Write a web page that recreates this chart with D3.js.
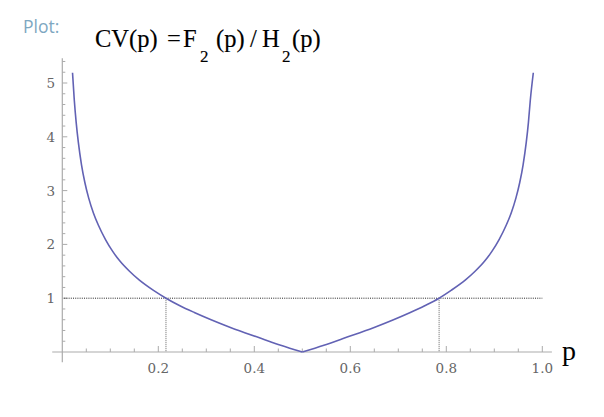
<!DOCTYPE html>
<html><head><meta charset="utf-8">
<script src="https://cdn.jsdelivr.net/npm/d3@7"></script>
<style>html,body{margin:0;padding:0;background:#fff;}</style>
</head><body>
<svg id="chart" width="604" height="417"></svg>
<script>
// Data
const leftP  = [0.0213, 0.025, 0.029, 0.0335, 0.040, 0.047, 0.055, 0.065, 0.075, 0.090, 0.105, 0.120, 0.140, 0.160, 0.190, 0.216, 0.245, 0.275, 0.310, 0.345, 0.380, 0.415, 0.455, 0.5];
const leftCV = [5.19, 4.68, 4.26, 3.89, 3.48, 3.15, 2.86, 2.58, 2.36, 2.09, 1.87, 1.69, 1.50, 1.34, 1.145, 1.00, 0.86, 0.735, 0.60, 0.475, 0.36, 0.25, 0.125, 0];
const rightP  = [0.5, 0.545, 0.585, 0.620, 0.655, 0.690, 0.725, 0.755, 0.785, 0.810, 0.840, 0.860, 0.880, 0.895, 0.910, 0.925, 0.935, 0.945, 0.953, 0.960, 0.9665, 0.971, 0.975, 0.9813];
const rightCV = [0, 0.125, 0.25, 0.36, 0.475, 0.60, 0.735, 0.86, 1.00, 1.145, 1.34, 1.50, 1.69, 1.87, 2.09, 2.36, 2.58, 2.86, 3.15, 3.48, 3.89, 4.26, 4.68, 5.19];
const crossP = [0.216, 0.785];
const refCV = 1;
const xTickLabels = [0.2, 0.4, 0.6, 0.8, 1.0];
const yTickLabels = [1, 2, 3, 4, 5];

const svg = d3.select("#chart");
const x = d3.scaleLinear().domain([0, 1]).range([62.3, 542.3]);
const y = d3.scaleLinear().domain([0, 5]).range([352, 83]);

const axisColor = "#ababab";
// axes lines
svg.append("line").attr("x1", x(-0.021)).attr("x2", x(1.02)).attr("y1", y(0)).attr("y2", y(0))
  .attr("stroke", axisColor).attr("stroke-width", 1.2);
svg.append("line").attr("x1", x(0)).attr("x2", x(0)).attr("y1", y(5.46)).attr("y2", y(-0.19))
  .attr("stroke", axisColor).attr("stroke-width", 1.2);

// x ticks
const xt = d3.range(1, 21).map(i => i * 0.05);
svg.append("g").selectAll("line").data(xt).join("line")
  .attr("x1", d => x(d)).attr("x2", d => x(d))
  .attr("y1", y(0)).attr("y2", d => y(0) - (Math.abs(d * 5 - Math.round(d * 5)) < 1e-6 ? 6 : 3.5))
  .attr("stroke", axisColor).attr("stroke-width", 1);
// y ticks
const yt = d3.range(1, 28).map(i => i * 0.2);
svg.append("g").selectAll("line").data(yt).join("line")
  .attr("x1", x(0)).attr("x2", d => x(0) + (Math.abs(d - Math.round(d)) < 1e-6 ? 5 : 3))
  .attr("y1", d => y(d)).attr("y2", d => y(d))
  .attr("stroke", axisColor).attr("stroke-width", 1);

// tick labels
svg.append("g").selectAll("text").data(xTickLabels).join("text")
  .attr("x", d => x(d)).attr("y", 373).attr("text-anchor", "middle")
  .attr("font-family", "DejaVu Serif").attr("font-size", 13.5).attr("fill", "#666")
  .text(d => d.toFixed(1));
svg.append("g").selectAll("text").data(yTickLabels).join("text")
  .attr("x", 55).attr("y", d => y(d) + 5).attr("text-anchor", "end")
  .attr("font-family", "DejaVu Serif").attr("font-size", 13.5).attr("fill", "#666")
  .text(d => d);

// reference dotted lines
svg.append("line").attr("x1", x(0.004)).attr("x2", x(1.0)).attr("y1", y(refCV)).attr("y2", y(refCV))
  .attr("stroke", "#222").attr("stroke-width", 1).attr("stroke-dasharray", "1,1.2");
svg.append("g").selectAll("line").data(crossP).join("line")
  .attr("x1", d => x(d)).attr("x2", d => x(d)).attr("y1", y(refCV)).attr("y2", y(0))
  .attr("stroke", "#666").attr("stroke-width", 1).attr("stroke-dasharray", "1,1");

// curve
const line = d3.line().x(d => x(d[0])).y(d => y(d[1])).curve(d3.curveMonotoneX);
[d3.zip(leftP, leftCV), d3.zip(rightP, rightCV)].forEach(seg => {
  svg.append("path").attr("d", line(seg)).attr("fill", "none")
    .attr("stroke", "#6262b4").attr("stroke-width", 1.6);
});

// axis label p
svg.append("text").attr("x", 562).attr("y", 360)
  .attr("font-family", "Liberation Serif").attr("font-size", 28).attr("fill", "#000").text("p");

// Plot: label
svg.append("text").attr("x", 23).attr("y", 33)
  .attr("font-family", "Open Sans").attr("font-size", 17.5).attr("fill", "#7ea7c1").text("Plot:");

// title
const tf = "Liberation Serif";
const title = svg.append("text").attr("font-family", tf).attr("fill", "#000")
  .attr("stroke", "#000").attr("stroke-width", 0.15);
const parts = [
  {t: "CV(p)", x: 95, y: 47, s: 24.5},
  {t: "=", x: 167, y: 47, s: 24.5},
  {t: "F", x: 183, y: 47, s: 24.5},
  {t: "2", x: 200, y: 62, s: 17},
  {t: "(p)", x: 216, y: 47, s: 24.5},
  {t: "/", x: 250, y: 47, s: 24.5},
  {t: "H", x: 262, y: 47, s: 24.5},
  {t: "2", x: 282, y: 62, s: 17},
  {t: "(p)", x: 292, y: 47, s: 24.5}
];
title.selectAll("tspan").data(parts).join("tspan")
  .attr("x", d => d.x).attr("y", d => d.y).attr("font-size", d => d.s).text(d => d.t);
</script>
</body></html>
